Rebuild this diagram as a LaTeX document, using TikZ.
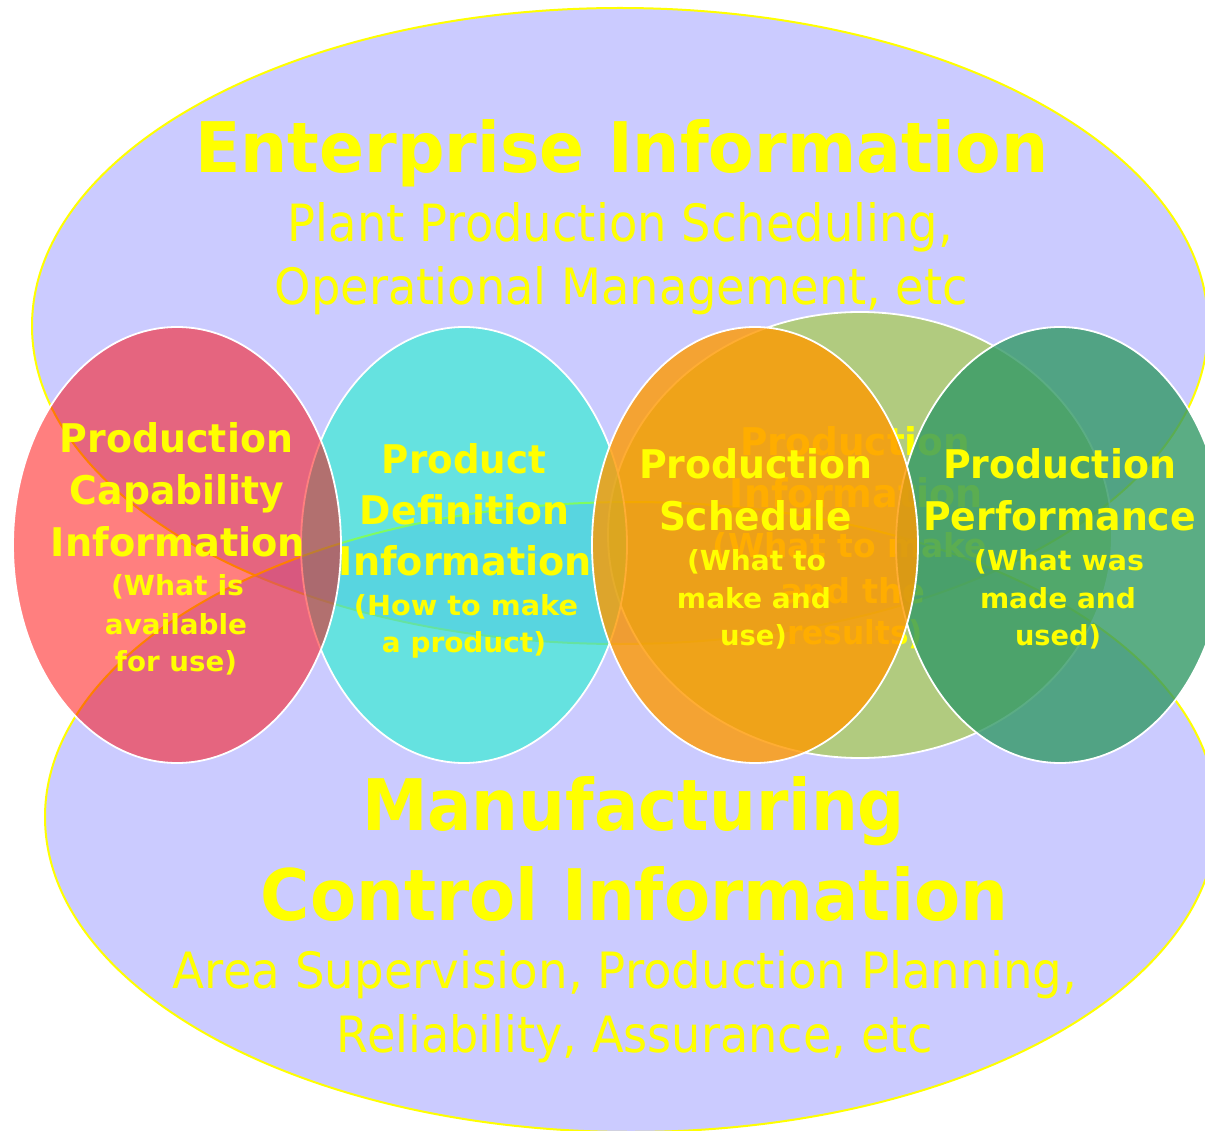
\documentclass[tikz,border=0pt]{standalone}
\usepackage{fontspec}
\setmainfont{DejaVu Sans}
\usepackage{graphicx}
\definecolor{lav}{RGB}{153,153,255}
\definecolor{olv}{RGB}{153,204,0}
\definecolor{grn}{RGB}{51,153,102}
\definecolor{cyn}{RGB}{0,250,195}
\definecolor{org}{RGB}{255,153,0}
\definecolor{rd}{RGB}{255,0,0}
\definecolor{ylw}{RGB}{255,255,0}
\newcommand\TL[6]{\node[txt] (#1) at (#2,#3) {\resizebox{#4pt}{#5pt}{#6}};}
\begin{document}
\begin{tikzpicture}[x=1pt,y=-1pt,
  txt/.style={anchor=base,inner sep=0pt,outer sep=0pt,text=ylw},
  big/.style={fill=lav,fill opacity=0.5,draw=ylw,line width=2pt},
  small/.style={draw=white,line width=1.8pt}]
\fill[white] (0,0) rectangle (1205,1131);
\useasboundingbox (0,0) rectangle (1205,1131);
% Enterprise Information
\path[big] (620,326) ellipse [x radius=588, y radius=318];
\TL{e1}{622}{173}{853}{53}{\bfseries Enterprise Information}
\TL{e2}{620.5}{242}{665}{39}{Plant Production Scheduling,}
\TL{e3}{621.5}{305}{693}{38}{Operational Management, etc}
% Manufacturing Control Information
\path[big] (631,817) ellipse [x radius=586, y radius=315];
\TL{m1}{633.5}{830}{543}{54}{\bfseries Manufacturing}
\TL{m2}{634.5}{920}{747}{54}{\bfseries Control Information}
\TL{m3}{625}{988}{904}{38}{Area Supervision, Production Planning,}
\TL{m4}{635}{1052}{596}{38}{Reliability, Assurance, etc}
% Production Information (olive, behind)
\path[small,fill=olv,fill opacity=0.5] (860,535) ellipse [x radius=252, y radius=223];
\TL{o1}{855}{455}{230}{29}{\bfseries Production}
\TL{o2}{856.5}{507}{253}{30}{\bfseries Information}
\TL{o3}{850}{557}{274}{25}{\bfseries (What to make}
\TL{o4}{852.5}{603}{145}{26}{\bfseries and the}
\TL{o5}{855}{644}{136}{25}{\bfseries results)}
% Production Performance (green)
\path[small,fill=grn,fill opacity=0.8] (1060,545) ellipse [x radius=164, y radius=218];
\TL{g1}{1059.5}{478}{233}{30}{\bfseries Production}
\TL{g2}{1059.5}{530}{273}{30}{\bfseries Performance}
\TL{g3}{1059}{570}{170}{21}{\bfseries (What was}
\TL{g4}{1058}{608}{156}{21}{\bfseries made and}
\TL{g5}{1058}{645}{86}{21}{\bfseries used)}
% Product Definition Information (cyan)
\path[small,fill=cyn,fill opacity=0.5] (464,545) ellipse [x radius=163, y radius=218];
\TL{c1}{464}{473}{164}{30}{\bfseries Product}
\TL{c2}{464.5}{524}{209}{30}{\bfseries Definition}
\TL{c3}{465.5}{575}{253}{30}{\bfseries Information}
\TL{c4}{466}{615}{224}{21}{\bfseries (How to make}
\TL{c5}{464}{652}{164}{21}{\bfseries a product)}
% Production Schedule (orange)
\path[small,fill=org,fill opacity=0.8] (755,545) ellipse [x radius=163, y radius=218];
\TL{s1}{755.5}{478}{233}{30}{\bfseries Production}
\TL{s2}{755.5}{530}{193}{30}{\bfseries Schedule}
\TL{s3}{756.5}{570}{139}{21}{\bfseries (What to}
\TL{s4}{754}{608}{154}{21}{\bfseries make and}
\TL{s5}{753.5}{645}{67}{21}{\bfseries use)}
% Production Capability Information (red)
\path[small,fill=rd,fill opacity=0.5] (177,545) ellipse [x radius=164, y radius=218];
\TL{r1}{176.5}{453}{233}{30}{\bfseries Production}
\TL{r2}{177}{504}{214}{30}{\bfseries Capability}
\TL{r3}{178}{556}{254}{30}{\bfseries Information}
\TL{r4}{177.5}{595}{133}{21}{\bfseries (What is}
\TL{r5}{176}{634}{142}{21}{\bfseries available}
\TL{r6}{176}{671}{122}{21}{\bfseries for use)}
\end{tikzpicture}
\end{document}
